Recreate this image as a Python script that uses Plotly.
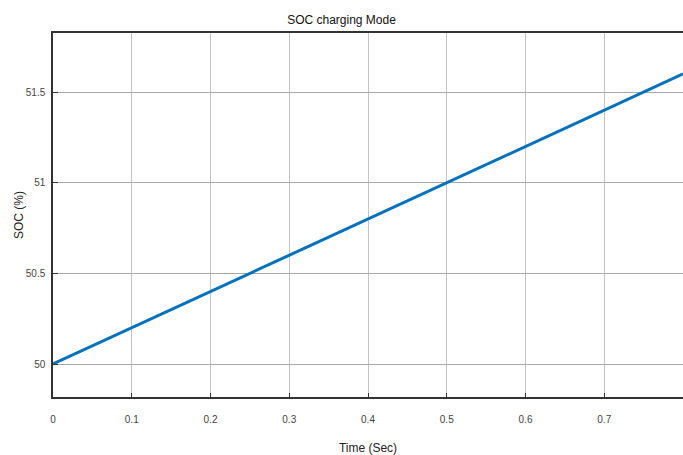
import plotly.graph_objects as go

time_sec = [0.0, 0.1, 0.2, 0.3, 0.4, 0.5, 0.6, 0.7, 0.8]
soc_pct = [50.0, 50.2, 50.4, 50.6, 50.8, 51.0, 51.2, 51.4, 51.6]
x_ticks = [0, 0.1, 0.2, 0.3, 0.4, 0.5, 0.6, 0.7, 0.8]
x_tick_labels = ["0", "0.1", "0.2", "0.3", "0.4", "0.5", "0.6", "0.7", "0.8"]
y_ticks = [50, 50.5, 51, 51.5]
y_tick_labels = ["50", "50.5", "51", "51.5"]

narrow = "Liberation Sans Narrow, Arial Narrow, Liberation Sans, Arial"

fig = go.Figure()
fig.add_trace(go.Scatter(
    x=time_sec, y=soc_pct, mode="lines",
    line=dict(color="#0072BD", width=3),
    showlegend=False, cliponaxis=True,
))

fig.update_layout(
    width=683, height=455,
    margin=dict(l=53, r=0, t=33, b=58, autoexpand=False),
    paper_bgcolor="white", plot_bgcolor="white",
    title=dict(text="SOC charging Mode", x=0.5, xanchor="center",
               y=1 - 20 / 455, yanchor="middle", automargin=False,
               font=dict(family=narrow, size=12, color="#111")),
    xaxis=dict(
        range=[0, 0.8], tickvals=x_ticks, ticktext=x_tick_labels,
        automargin=False,
        showgrid=True, gridcolor="#c4c4c4", gridwidth=1,
        showline=True, linecolor="#333", linewidth=1.5, mirror=True,
        ticks="inside", ticklen=4, tickcolor="#333",
        ticklabelstandoff=12,
        tickfont=dict(family=narrow, size=10, color="#444"),
        title=dict(text="Time (Sec)", font=dict(family=narrow, size=12, color="#222"), standoff=20),
        zeroline=False,
    ),
    yaxis=dict(
        range=[49.818, 51.826], tickvals=y_ticks, ticktext=y_tick_labels,
        automargin=False,
        showgrid=True, gridcolor="#a8a8a8", gridwidth=1,
        showline=True, linecolor="#333", linewidth=1.5, mirror=True,
        ticks="inside", ticklen=5, tickcolor="#333",
        ticklabelstandoff=4,
        tickfont=dict(family=narrow, size=10, color="#444"),
        title=dict(text="SOC (%)", font=dict(family="Liberation Sans, Arial", size=12, color="#222"), standoff=0),
        zeroline=False,
    ),
)

fig.write_html(
    "out.html",
    config={"displayModeBar": False},
    post_script="document.body.style.margin='0';document.body.style.overflow='hidden';",
)
